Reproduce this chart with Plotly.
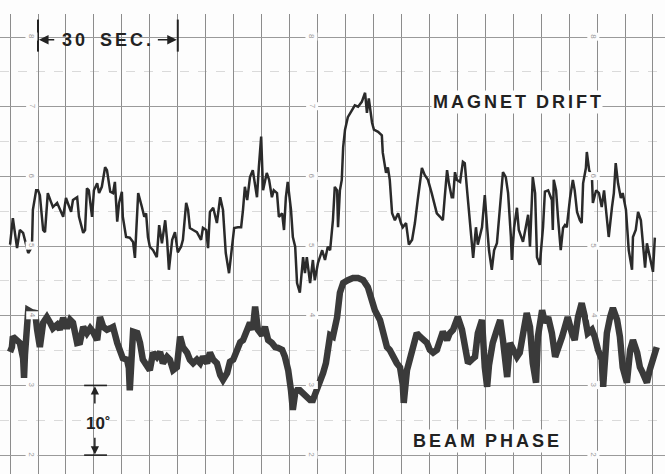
import plotly.graph_objects as go

# ---- data (time in seconds, pen reading in chart divisions) ----
md_t = [-6.0,-5.4,-4.5,-3.9,-3.2,-2.6,-2.1,-1.3,-1.1,-0.4,0.0,0.4,1.1,1.5,2.1,2.8,3.2,4.1,4.5,5.4,6.0,6.4,7.1,7.5,8.4,8.8,9.7,10.1,10.5,10.9,11.6,12.0,12.7,13.1,13.7,14.4,14.8,15.5,16.1,16.5,17.0,17.4,18.0,18.2,18.9,19.7,20.4,20.8,21.5,22.3,22.8,23.2,23.6,24.0,24.7,25.5,26.0,26.6,27.3,27.7,28.1,28.8,29.4,30.0,30.7,31.1,31.8,32.2,32.6,33.3,34.1,35.0,35.4,36.1,36.5,36.9,37.6,38.4,39.1,39.7,40.3,41.0,41.6,42.1,42.9,43.6,44.0,44.4,44.9,45.5,46.1,46.6,47.0,47.4,47.9,48.3,49.1,49.6,50.2,50.6,51.3,51.7,52.4,52.8,53.2,53.6,54.3,54.7,55.2,55.6,56.2,56.9,57.3,57.7,58.4,59.0,59.4,60.1,61.0,61.6,62.2,62.7,63.3,63.7,64.2,64.4,64.8,65.2,65.5,65.9,66.5,67.4,68.0,68.7,69.5,70.2,70.6,71.0,71.7,72.1,73.0,73.8,74.0,74.7,75.1,75.5,76.0,76.6,77.3,77.9,78.3,79.0,79.6,80.3,80.9,81.5,82.4,83.0,83.7,84.5,85.6,86.3,86.9,87.3,87.8,88.2,88.8,89.1,89.5,89.9,90.6,91.2,91.6,92.1,92.5,93.1,93.4,94.0,94.4,95.3,95.9,96.4,96.8,97.4,97.9,98.5,98.9,99.8,100.4,100.9,101.5,101.7,102.2,102.8,103.2,104.1,104.7,105.2,105.6,106.2,106.7,107.1,107.7,108.4,108.8,109.5,110.3,110.5,110.7,111.2,111.6,112.2,112.7,113.1,113.5,114.2,114.8,115.2,115.7,116.3,116.7,117.0,117.6,117.8,118.3,118.9,119.1,119.8,120.4,121.0,121.5,122.1,122.5,123.2,123.6,124.0,124.5,125.1,125.5,126.2,126.8,127.5,127.7,128.3,128.8,129.4,129.8,130.3,130.7,131.3,132.0,132.4]
md_v = [5.02,5.40,4.97,5.23,5.19,5.04,4.90,4.99,5.52,5.80,5.80,5.73,5.23,5.20,5.76,5.63,5.56,5.62,5.55,5.42,5.69,5.62,5.49,5.66,5.70,5.42,5.19,5.23,5.83,5.80,5.42,5.80,5.90,5.76,5.85,6.13,6.09,5.78,5.76,5.92,5.35,5.62,5.78,5.42,5.13,5.12,5.06,4.83,5.76,5.56,5.42,5.47,5.13,4.99,4.94,4.84,5.30,5.04,5.37,5.09,4.66,5.09,5.20,4.91,4.99,5.09,5.62,5.52,5.26,5.23,5.20,5.09,5.26,5.23,4.97,5.49,5.55,5.33,5.70,5.52,4.90,4.61,4.94,5.26,5.27,5.27,5.52,5.85,5.66,5.99,6.09,5.90,5.70,6.13,6.57,5.80,6.05,5.95,5.70,5.80,5.76,5.42,5.47,5.23,5.70,5.92,5.52,5.13,4.99,4.47,4.33,4.84,4.61,4.84,4.47,4.80,4.51,4.76,4.94,4.80,4.99,4.94,5.37,5.85,5.80,5.27,5.80,5.95,6.42,6.67,6.85,6.95,7.02,7.00,7.07,7.20,6.91,7.12,6.77,6.67,6.64,6.59,6.34,6.05,6.13,5.95,5.47,5.37,5.47,5.33,5.27,5.33,5.02,5.09,5.33,5.66,6.12,6.02,5.95,5.76,5.47,5.42,5.37,5.70,6.09,5.90,5.70,5.70,6.06,5.95,5.92,6.21,6.19,5.80,5.47,5.09,4.83,5.27,5.02,5.27,5.73,5.27,4.94,4.66,4.94,5.04,5.37,6.06,5.99,5.76,5.13,4.80,5.27,5.55,5.23,5.06,5.27,5.45,4.99,5.99,5.76,4.84,4.73,5.27,5.78,5.80,5.66,5.23,5.95,5.80,5.42,4.94,5.26,5.30,5.27,5.69,5.95,5.80,5.49,5.37,5.33,5.90,6.12,6.35,6.09,5.99,5.62,5.80,5.76,5.56,5.80,5.37,5.13,5.56,5.76,6.19,5.90,5.69,5.76,5.52,4.94,4.66,5.13,5.23,5.49,5.37,5.04,4.69,5.04,4.84,4.63,5.12]

bp_t = [-6.0,-5.6,-5.4,-4.5,-3.9,-3.2,-3.0,-2.8,-2.4,-2.1,-1.3,-0.6,-0.2,0.4,1.1,1.9,2.6,3.2,4.1,4.7,5.4,6.2,6.9,7.5,8.4,9.0,9.7,10.5,11.2,11.8,12.7,13.3,14.0,14.8,15.5,16.1,17.0,17.6,18.2,19.1,19.5,19.7,20.0,20.4,21.3,21.9,22.5,23.4,24.0,24.7,25.5,26.2,26.8,27.7,28.3,29.0,29.8,30.5,31.1,32.0,32.6,33.3,34.1,34.8,35.4,36.3,36.9,37.6,38.4,39.1,39.7,40.6,41.2,41.9,42.7,43.4,44.0,44.9,45.5,46.1,46.6,47.2,48.1,48.7,49.4,50.2,50.9,51.5,52.4,53.0,53.7,54.3,54.7,55.2,55.6,56.2,56.9,57.7,58.4,59.0,59.9,60.5,61.2,61.8,62.7,63.3,64.2,64.8,65.5,66.5,67.6,68.7,69.8,70.8,71.7,72.3,73.4,74.0,74.9,75.5,76.2,77.0,77.7,78.3,78.5,78.8,79.2,79.8,80.5,81.3,82.0,82.6,83.5,84.1,84.8,85.6,86.3,86.9,87.8,88.4,89.1,90.1,91.0,91.6,92.3,93.1,93.8,94.4,95.3,95.9,96.4,96.8,97.6,98.5,99.2,99.8,100.7,101.3,101.9,102.8,103.4,104.1,104.9,105.6,106.2,106.9,107.3,108.2,108.8,109.5,110.3,111.0,111.6,112.5,113.1,113.7,114.6,115.2,115.9,116.7,117.4,118.0,118.9,119.5,120.2,121.0,121.3,121.7,122.1,122.8,123.4,124.3,124.9,125.5,126.4,127.1,127.7,128.6,129.2,129.8,130.7,131.3,132.0,132.8]
bp_v = [3.48,3.55,3.70,3.65,3.61,3.39,3.11,3.44,3.80,4.08,4.05,4.04,3.80,3.55,3.90,3.98,3.90,3.82,3.87,3.80,3.97,3.82,3.94,3.90,3.61,3.62,3.84,3.75,3.82,3.77,3.65,3.98,3.84,3.80,3.82,3.84,3.61,3.47,3.39,3.37,3.25,2.93,3.37,3.77,3.75,3.61,3.37,3.29,3.22,3.47,3.41,3.48,3.32,3.41,3.37,3.22,3.26,3.70,3.55,3.47,3.37,3.32,3.37,3.32,3.41,3.32,3.47,3.37,3.32,3.15,3.08,3.18,3.34,3.37,3.51,3.62,3.65,3.80,3.90,3.80,4.13,3.80,3.72,3.84,3.65,3.61,3.55,3.54,3.51,3.41,3.22,2.93,2.65,2.89,2.93,2.93,2.89,2.83,2.79,2.79,2.93,3.04,3.18,3.32,3.72,3.70,3.98,4.33,4.47,4.51,4.54,4.54,4.51,4.41,4.23,4.08,3.94,3.75,3.55,3.51,3.41,3.32,3.26,3.01,2.75,3.01,3.22,3.37,3.55,3.75,3.70,3.65,3.61,3.51,3.47,3.51,3.65,3.77,3.65,3.75,3.80,3.98,3.80,3.51,3.32,3.37,3.41,3.75,3.94,3.26,2.98,3.29,3.61,3.80,3.94,3.65,3.12,3.61,3.51,3.41,3.47,3.70,4.04,3.84,3.32,3.04,3.70,4.08,3.90,3.98,3.75,3.41,3.51,3.70,3.84,3.98,3.75,3.65,3.98,4.18,3.98,3.75,3.80,3.70,3.51,3.37,2.98,3.44,3.75,3.98,4.11,3.94,3.70,3.26,3.04,3.51,3.65,3.47,3.26,3.18,3.04,3.22,3.37,3.55]

scale_labels = ["2", "3", "4", "5", "6", "7", "8"]
scale_values = [2, 3, 4, 5, 6, 7, 8]

INK = "#2a2a2a"
FONT = "Liberation Sans"
SP = "\u2006"  # narrow space for the letter-spaced lettering


def spaced(word):
    return SP.join(word)


fig = go.Figure()
fig.add_trace(go.Scatter(x=bp_t, y=bp_v, mode="lines",
                         line=dict(color="#3a3a3a", width=6.5), hoverinfo="skip"))
fig.add_trace(go.Scatter(x=md_t, y=md_v, mode="lines",
                         line=dict(color=INK, width=2.5), hoverinfo="skip"))

# small scale numerals printed on the chart paper
for col_t in (-1.3, 58.8, 119.3):
    for lab, val in zip(scale_labels, scale_values):
        fig.add_annotation(x=col_t, y=val, text=lab, showarrow=False,
                           textangle=90, font=dict(family=FONT, size=8, color="#9a9a9a"),
                           bgcolor="#fdfdfd")

# 30 SEC. marker
for tx in (0, 30):
    fig.add_shape(type="line", x0=tx, x1=tx, y0=7.79, y1=8.25,
                  line=dict(color="#222", width=2))
fig.add_annotation(x=0.2, y=7.96, ax=3.8, ay=7.96, xref="x", yref="y", axref="x", ayref="y",
                   text="", showarrow=True, arrowhead=2, arrowsize=1.2, arrowwidth=1.6, arrowcolor="#222")
fig.add_annotation(x=29.8, y=7.96, ax=25.4, ay=7.96, xref="x", yref="y", axref="x", ayref="y",
                   text="", showarrow=True, arrowhead=2, arrowsize=1.2, arrowwidth=1.6, arrowcolor="#222")
fig.add_annotation(x=14.6, y=7.95, text=spaced("30") + "   " + spaced("SEC."), showarrow=False,
                   font=dict(family=FONT, size=18, color="#222", weight="bold"))

# labels
fig.add_annotation(x=102.8, y=7.07, text=spaced("MAGNET") + "  " + spaced("DRIFT"), showarrow=False,
                   font=dict(family=FONT, size=18, color="#222", weight="bold"), bgcolor="#fdfdfd")
fig.add_annotation(x=96.2, y=2.20, text=spaced("BEAM") + "  " + spaced("PHASE"), showarrow=False,
                   font=dict(family=FONT, size=18, color="#222", weight="bold"), bgcolor="#fdfdfd")

# 10 degree scale marker
fig.add_annotation(x=12.9, y=2.45, text="10\u02da", showarrow=False,
                   font=dict(family=FONT, size=17, color="#222", weight="bold"))
for yv in (2, 3):
    fig.add_shape(type="line", x0=9.9, x1=14.8, y0=yv, y1=yv, line=dict(color="#222", width=1.6))
fig.add_annotation(x=12.2, y=2.99, ax=12.2, ay=2.72, xref="x", yref="y", axref="x", ayref="y",
                   text="", showarrow=True, arrowhead=2, arrowsize=1.1, arrowwidth=1.5, arrowcolor="#222")
fig.add_annotation(x=12.2, y=2.01, ax=12.2, ay=2.27, xref="x", yref="y", axref="x", ayref="y",
                   text="", showarrow=True, arrowhead=2, arrowsize=1.1, arrowwidth=1.5, arrowcolor="#222")

fig.update_layout(
    width=665, height=474,
    margin=dict(l=0, r=0, t=14, b=0),
    paper_bgcolor="#fdfdfd", plot_bgcolor="#fdfdfd",
    showlegend=False,
    xaxis=dict(range=[-8.16, 134.58], tick0=0, dtick=6, showgrid=True,
               gridcolor="#8c8c8c", gridwidth=1, zeroline=False, showticklabels=False,
               ticks="", showline=False, fixedrange=True),
    yaxis=dict(range=[1.729, 8.33], tick0=0, dtick=1, showgrid=True,
               gridcolor="#9a9a9a", gridwidth=1, zeroline=False, showticklabels=False,
               ticks="", showline=False, fixedrange=True,
               minor=dict(dtick=0.5, showgrid=True, gridcolor="#dadada", griddash="dash", gridwidth=1)),
)

fig.write_html("out.html", config={"displayModeBar": False},
               post_script="document.body.style.margin='0';document.body.style.overflow='hidden';")
